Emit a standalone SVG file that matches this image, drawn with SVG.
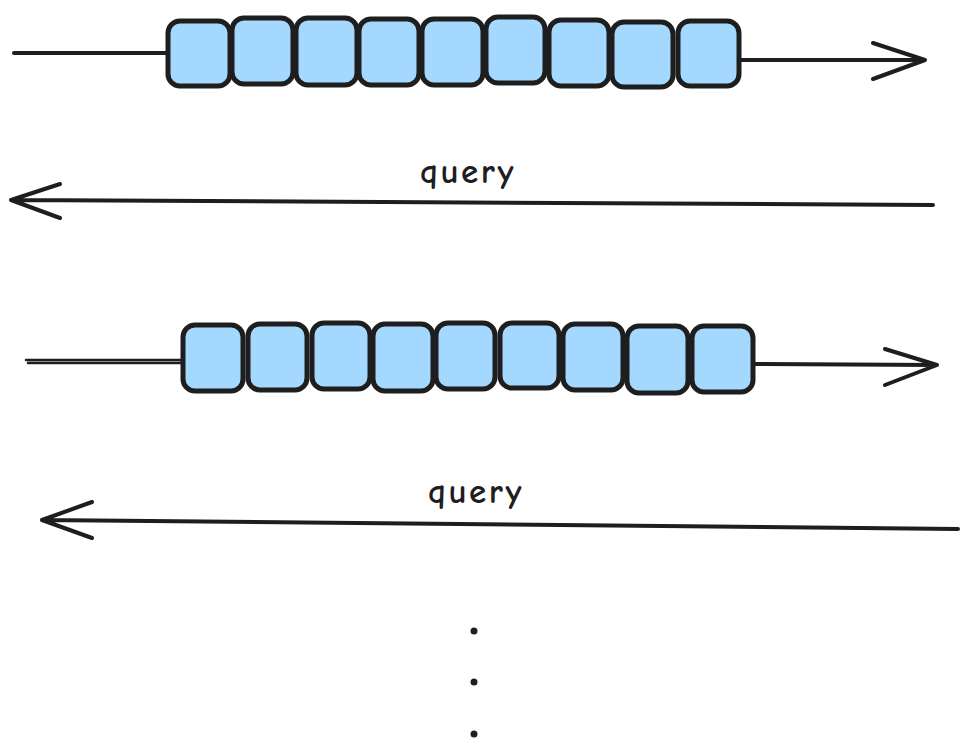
<svg xmlns="http://www.w3.org/2000/svg" width="960" height="753" viewBox="0 0 960 753">
<style>
.box{fill:#a5d8ff;stroke:#1e1e1e;stroke-width:5;stroke-linejoin:round}
.ln{fill:none;stroke:#1e1e1e;stroke-width:4;stroke-linecap:round;stroke-linejoin:round}
.lbl{font-family:"Comic Neue","Liberation Sans",sans-serif;font-size:35px;font-weight:bold;fill:#1e1e1e;letter-spacing:2.5px}
.dot{fill:#1e1e1e}
</style>
<rect width="960" height="753" fill="#ffffff"/>
<g id="connectors">
  <path class="ln" d="M14 53 L168 53"/>
  <path class="ln" d="M739 60 L925 60 M873 43 L925 60 L873 79"/>
  <path class="ln" d="M933 205 L11 200 M60 184 L11 200 L60 218"/>
  <path class="ln" d="M26 360 L183 360 M28 363 L183 363" style="stroke-width:2.5"/>
  <path class="ln" d="M754 364 L937 365 M885 349 L937 365 L885 385"/>
  <path class="ln" d="M958 529 L42 520 M92 502 L42 520 L92 538"/>
</g>
<g id="row1">
  <g id="r1b1"><rect class="box" x="168" y="21" width="62" height="65" rx="12"/></g>
  <g id="r1b2"><rect class="box" x="232" y="18" width="61" height="66" rx="12"/></g>
  <g id="r1b3"><rect class="box" x="296" y="18" width="61" height="67" rx="12"/></g>
  <g id="r1b4"><rect class="box" x="359" y="19" width="60" height="66" rx="12"/></g>
  <g id="r1b5"><rect class="box" x="422" y="19" width="61" height="66" rx="12"/></g>
  <g id="r1b6"><rect class="box" x="486" y="17" width="59" height="66" rx="12"/></g>
  <g id="r1b7"><rect class="box" x="549" y="20" width="60" height="66" rx="12"/></g>
  <g id="r1b8"><rect class="box" x="612" y="22" width="61" height="65" rx="12"/></g>
  <g id="r1b9"><rect class="box" x="678" y="21" width="61" height="65" rx="12"/></g>
</g>
<g id="row2">
  <g id="r2b1"><rect class="box" x="183" y="325" width="60" height="66" rx="12"/></g>
  <g id="r2b2"><rect class="box" x="248" y="324" width="59" height="66" rx="12"/></g>
  <g id="r2b3"><rect class="box" x="312" y="323" width="58" height="66" rx="12"/></g>
  <g id="r2b4"><rect class="box" x="373" y="324" width="60" height="67" rx="12"/></g>
  <g id="r2b5"><rect class="box" x="436" y="323" width="59" height="66" rx="12"/></g>
  <g id="r2b6"><rect class="box" x="500" y="323" width="59" height="65" rx="12"/></g>
  <g id="r2b7"><rect class="box" x="563" y="324" width="60" height="66" rx="12"/></g>
  <g id="r2b8"><rect class="box" x="627" y="326" width="61" height="67" rx="12"/></g>
  <g id="r2b9"><rect class="box" x="692" y="326" width="61" height="66" rx="12"/></g>
</g>
<g id="label1"><text class="lbl" x="468" y="183" text-anchor="middle">query</text></g>
<g id="label2"><text class="lbl" x="476" y="503" text-anchor="middle">query</text></g>
<g id="dots">
  <circle class="dot" cx="474" cy="631" r="3.5"/>
  <circle class="dot" cx="474" cy="682" r="3.5"/>
  <circle class="dot" cx="474" cy="734" r="3.5"/>
</g>
</svg>
